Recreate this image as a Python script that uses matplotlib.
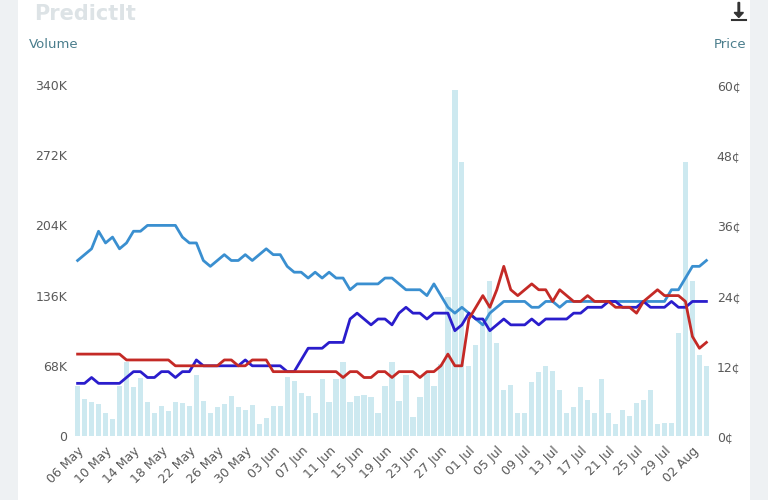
import datetime as dt
import matplotlib
matplotlib.use('Agg')
import matplotlib.pyplot as plt
import matplotlib.patches as mpatches

start = dt.date(2019, 5, 6)
volume_k = [48, 36, 33, 31, 22, 16, 48, 72, 47, 56,
            33, 22, 29, 24, 33, 32, 29, 59, 34, 22,
            28, 31, 39, 28, 25, 30, 12, 17, 29, 29,
            57, 53, 42, 39, 22, 55, 33, 55, 72, 33,
            39, 40, 38, 22, 48, 72, 34, 59, 18, 38,
            62, 48, 70, 135, 335, 265, 68, 88, 108, 150,
            90, 45, 49, 22, 22, 52, 62, 68, 63, 45,
            22, 28, 47, 35, 22, 55, 22, 12, 25, 19,
            32, 35, 45, 12, 13, 13, 100, 265, 150, 78, 68]
light_blue = [30, 31, 32, 35, 33, 34, 32, 33, 35, 35,
              36, 36, 36, 36, 36, 34, 33, 33, 30, 29,
              30, 31, 30, 30, 31, 30, 31, 32, 31, 31,
              29, 28, 28, 27, 28, 27, 28, 27, 27, 25,
              26, 26, 26, 26, 27, 27, 26, 25, 25, 25,
              24, 26, 24, 22, 21, 22, 21, 20, 19, 21,
              22, 23, 23, 23, 23, 22, 22, 23, 23, 22,
              23, 23, 23, 23, 23, 23, 23, 23, 23, 23,
              23, 23, 23, 23, 23, 25, 25, 27, 29, 29, 30]
dark_blue = [9, 9, 10, 9, 9, 9, 9, 10, 11, 11,
             10, 10, 11, 11, 10, 11, 11, 13, 12, 12,
             12, 12, 12, 12, 13, 12, 12, 12, 12, 12,
             11, 11, 13, 15, 15, 15, 16, 16, 16, 20,
             21, 20, 19, 20, 20, 19, 21, 22, 21, 21,
             20, 21, 21, 21, 18, 19, 21, 20, 20, 18,
             19, 20, 19, 19, 19, 20, 19, 20, 20, 20,
             20, 21, 21, 22, 22, 22, 23, 23, 22, 22,
             22, 23, 22, 22, 22, 23, 22, 22, 23, 23, 23]
red = [14, 14, 14, 14, 14, 14, 14, 13, 13, 13,
       13, 13, 13, 13, 12, 12, 12, 12, 12, 12,
       12, 13, 13, 12, 12, 13, 13, 13, 11, 11,
       11, 11, 11, 11, 11, 11, 11, 11, 10, 11,
       11, 10, 10, 11, 11, 10, 11, 11, 11, 10,
       11, 11, 12, 14, 12, 12, 20, 22, 24, 22,
       25, 29, 25, 24, 25, 26, 25, 25, 23, 25,
       24, 23, 23, 24, 23, 23, 23, 22, 22, 22,
       21, 23, 24, 25, 24, 24, 24, 23, 17, 15, 16]
vol_ticks = [0, 68, 136, 204, 272, 340]
price_ticks = [0, 12, 24, 36, 48, 60]

x = list(range(len(volume_k)))
tick_pos = list(range(0, len(x), 4))
tick_lab = [(start + dt.timedelta(days=i)).strftime('%d %b') for i in tick_pos]

fig = plt.figure(figsize=(7.68, 5), dpi=100, facecolor='#eef1f3')
fig.patches.append(mpatches.Rectangle((18 / 768, 0), 732 / 768, 1, transform=fig.transFigure,
                                      facecolor='white', zorder=-1))
ax = fig.add_axes([72 / 768, 64 / 500, 640 / 768, 351 / 500])
ax.bar(x, volume_k, width=0.75, color='#cde9f0', zorder=1)
ax.set_ylim(0, 340)
ax.set_xlim(-0.8, len(x) - 0.2)
ax.set_yticks(vol_ticks)
ax.set_yticklabels(['0' if v == 0 else f'{v}K' for v in vol_ticks])
ax.set_xticks(tick_pos)
ax.set_xticklabels(tick_lab, rotation=45, ha='right', rotation_mode='anchor')

ax2 = ax.twinx()
ax2.plot(x, light_blue, color='#3a8fd0', lw=2)
ax2.plot(x, dark_blue, color='#2a1dcc', lw=2)
ax2.plot(x, red, color='#c42a26', lw=2)
ax2.set_ylim(0, 60)
ax2.set_yticks(price_ticks)
ax2.set_yticklabels([f'{v}¢' for v in price_ticks])

for a in (ax, ax2):
    for s in a.spines.values():
        s.set_visible(False)
    a.tick_params(length=0, colors='#5a5a5a', labelsize=9)
ax.tick_params(axis='x', pad=6)
ax.set_facecolor('none')

fig.text(0.038, 0.905, 'Volume', color='#4a7d8c', fontsize=9.5)
fig.text(0.972, 0.905, 'Price', color='#4a7d8c', fontsize=9.5, ha='right')
fig.text(0.045, 0.972, 'PredictIt', color='#dde3e6', fontsize=15, fontweight='bold', va='center')

# download icon
fig.add_artist(mpatches.FancyArrow(0.962, 0.995, 0, -0.02, width=0.002, head_width=0.012,
                                   head_length=0.01, color='#333333', transform=fig.transFigure))
fig.add_artist(plt.Line2D([0.953, 0.971], [0.96, 0.96], color='#333333', lw=1.5,
                          transform=fig.transFigure))

plt.savefig('out.png', dpi=100, facecolor=fig.get_facecolor())
